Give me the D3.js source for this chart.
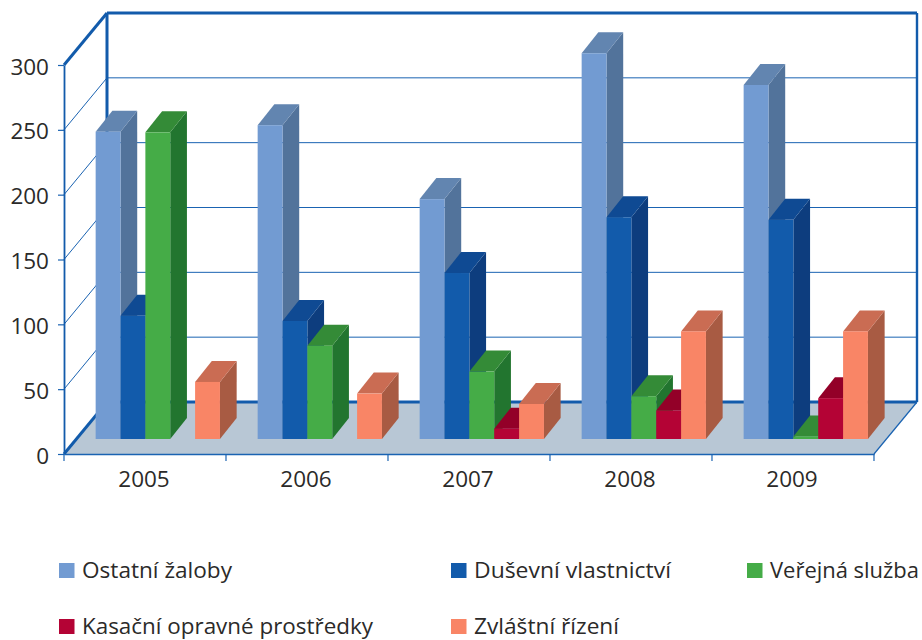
<!DOCTYPE html>
<html><head><meta charset="utf-8">
<script src="https://cdnjs.cloudflare.com/ajax/libs/d3/7.8.5/d3.min.js"></script>
<style>html,body{margin:0;padding:0;background:#fff}svg{display:block}
text{font-family:"Open Sans",sans-serif;fill:#2b2a29}</style></head>
<body><svg id="c" width="922" height="640"></svg>
<script>
const years = ["2005","2006","2007","2008","2009"];
const seriesNames = ["Ostatní žaloby","Duševní vlastnictví","Veřejná služba","Kasační opravné prostředky","Zvláštní řízení"];
const ostatni = [237,242,185,297.5,273];
const dusevni = [95,91,128,171,169];
const verejna = [236.5,72,52,33,2];
const kasacni = [0,0,8,22,31.5];
const zvlastni = [44,35,27,83,83];
const seriesValues = [ostatni,dusevni,verejna,kasacni,zvlastni];
const yTicks = [0,50,100,150,200,250,300];
const frontColors = ["#729BD2","#125BAB","#45AC47","#B40335","#F98566"];
const topColors = ["#6285B0","#0F4A93","#348B37","#930028","#CA6C53"];
const sideColors = ["#52739B","#0D3D7E","#22752F","#91002A","#A85B43"];
const legendWidths = [150,197,149,291,145];
const legendCols = [59,451,747,59,451];
const legendRows = [0,0,0,1,1];

const svg = d3.select("#c");
const L=64,R=874,B=454,T=65, WX=43, WY=52, BX=12.8, BY=15, DX=16.7, DY=21;
const axisBlue="#1A63B2", thick="#125BAB";
const y = d3.scaleLinear().domain([0,300]).range([B,T]);
const x0 = d3.scaleBand().domain(years).range([L,R]).paddingInner(.2327).paddingOuter(.1164);
const x1 = d3.scaleBand().domain(seriesNames).range([0,x0.bandwidth()]);

// floor
svg.append("polygon").attr("fill","#B8C7D5")
  .attr("points",[[L,B],[R,B],[R+WX,B-WY],[L+WX,B-WY]].join(" "));
// walls grid
yTicks.filter(t=>t>0&&t<300).forEach(t=>{
  svg.append("line").attr("x1",L+WX).attr("x2",R+WX).attr("y1",y(t)-WY).attr("y2",y(t)-WY)
    .attr("stroke",axisBlue).attr("stroke-width",1);
});
yTicks.filter(t=>t>0&&t<300).forEach(t=>{
  svg.append("line").attr("x1",L).attr("x2",L+WX).attr("y1",y(t)).attr("y2",y(t)-WY)
    .attr("stroke",axisBlue).attr("stroke-width",1);
});
// frame
const frame=(a,b,w,c)=>svg.append("line").attr("x1",a[0]).attr("y1",a[1]).attr("x2",b[0]).attr("y2",b[1]).attr("stroke",c||thick).attr("stroke-width",w);
frame([L,T],[L+WX,T-WY],3);
frame([L+WX,T-WY],[R+WX,T-WY],2.8);
frame([L+WX,T-WY],[L+WX,B-WY],3);
frame([R+WX,T-WY],[R+WX,B-WY],2.4);
frame([L+WX,B-WY],[R+WX,B-WY],3);
frame([L,B],[L+WX,B-WY],3);
frame([R,B],[R+WX,B-WY],1.2,axisBlue);

// bars
const gBars=svg.append("g");
years.forEach((yr,i)=>{
  seriesNames.forEach((s,j)=>{
    const v=seriesValues[j][i];
    if(v<=0) return;
    const xa=x0(yr)+BX+x1(s), xb=xa+x1.bandwidth();
    const yb=y(0)-BY, yt=y(v)-BY;
    gBars.append("polygon").attr("fill",sideColors[j])
      .attr("points",[[xb,yb],[xb+DX,yb-DY],[xb+DX,yt-DY],[xb,yt]].join(" "));
    gBars.append("polygon").attr("fill",topColors[j])
      .attr("points",[[xa,yt],[xb,yt],[xb+DX,yt-DY],[xa+DX,yt-DY]].join(" "));
    gBars.append("rect").attr("x",xa).attr("y",yt).attr("width",xb-xa).attr("height",yb-yt).attr("fill",frontColors[j]);
  });
});

// axes
const ax=svg.append("g").attr("transform",`translate(${L},0)`)
  .call(d3.axisLeft(y).tickValues(yTicks).tickSize(6).tickSizeOuter(0).tickPadding(8));
ax.selectAll("text").style("font-size","22.5px").attr("dy",".4em").attr("x",-15);
ax.select(".domain").attr("stroke",thick).attr("stroke-width",1.8);
ax.selectAll(".tick line").attr("stroke",axisBlue).attr("stroke-width",1.2);

const bx=svg.append("g").attr("transform",`translate(-1,${B})`)
  .call(d3.axisBottom(x0.copy().padding(0)).tickSize(0).tickSizeOuter(0).tickPadding(18));
bx.selectAll("text").style("font-size","22.5px").attr("dy",".71em").attr("y",17.5);
bx.select(".domain").attr("transform","translate(1,0)").attr("stroke",axisBlue).attr("stroke-width",1.3);
d3.range(years.length+1).forEach(k=>{
  const px=L+k*x0.step();
  svg.append("line").attr("x1",px).attr("x2",px).attr("y1",B).attr("y2",B+7).attr("stroke",axisBlue).attr("stroke-width",1.2);
});

// legend
seriesNames.forEach((s,j)=>{
  const lx=legendCols[j], ly=legendRows[j]?619:563;
  svg.append("rect").attr("x",lx).attr("y",ly).attr("width",15.5).attr("height",15).attr("fill",frontColors[j]);
  svg.append("text").attr("x",lx+23).attr("y",ly+14.5).text(s)
    .style("font-size","22px").attr("textLength",legendWidths[j]).attr("lengthAdjust","spacingAndGlyphs");
});
</script></body></html>
